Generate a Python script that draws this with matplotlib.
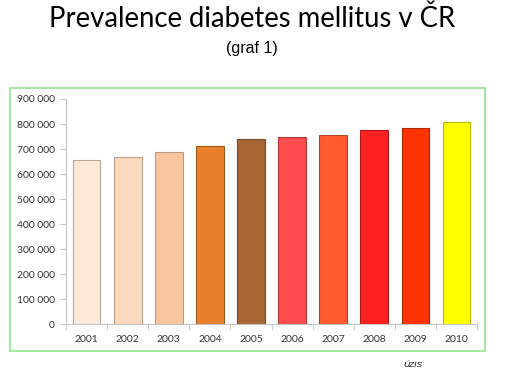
import matplotlib
matplotlib.use("Agg")
import matplotlib.pyplot as plt
from matplotlib.patches import Rectangle
from matplotlib.ticker import FuncFormatter

years = ["2001", "2002", "2003", "2004", "2005", "2006", "2007", "2008", "2009", "2010"]
prevalence = [656000, 668000, 689000, 713000, 740000, 749000, 757000, 776000, 785000, 809000]
bar_colors = ["#FCE9DA", "#FBD9BF", "#F9C59E", "#E87E2A", "#A86634",
              "#FF4C4C", "#FF5A30", "#FF2020", "#FF3300", "#FFFF00"]
edge_colors = ["#B8A596", "#B8A090", "#B89A80", "#A05A20", "#7A4A25",
               "#B03838", "#B04428", "#B01818", "#B02800", "#B8B800"]
y_ticks = list(range(0, 900001, 100000))

fig = plt.figure(figsize=(5.05, 3.73), dpi=100)

# green frame around the chart
fig.patches.append(Rectangle((0.020, 0.059), 0.941, 0.705, transform=fig.transFigure,
                             fill=False, edgecolor="#8EE68E", linewidth=1.2))

ax = fig.add_axes([0.1307, 0.1306, 0.814, 0.604])
x = range(len(years))
ax.bar(x, prevalence, width=0.675, color=bar_colors, edgecolor=edge_colors, linewidth=0.8)

ax.set_xlim(-0.5, len(years) - 0.5)
ax.set_ylim(0, 900000)
ax.set_yticks(y_ticks)
ax.yaxis.set_major_formatter(FuncFormatter(lambda v, p: "{:,}".format(int(v)).replace(",", " ")))
ax.set_xticks(list(x))
ax.set_xticklabels(years)
ax.set_xticks([i - 0.5 for i in range(len(years) + 1)], minor=True)

for s in ["top", "right"]:
    ax.spines[s].set_visible(False)
for s in ["left", "bottom"]:
    ax.spines[s].set_color("#C8C8C8")
    ax.spines[s].set_linewidth(0.8)

ax.tick_params(axis="x", which="major", length=0, pad=8, labelsize=7.5, labelcolor="#333333")
ax.tick_params(axis="x", which="minor", length=4, color="#C8C8C8")
ax.tick_params(axis="y", length=4, color="#C8C8C8", labelsize=7.5, labelcolor="#333333", pad=4)
for lab in ax.get_xticklabels() + ax.get_yticklabels():
    lab.set_family("Lato")

fig.text(0.499, 0.949, "Prevalence diabetes mellitus v ČR", ha="center", va="center",
         fontsize=19.8, family="Lato", color="black")
fig.text(0.498, 0.871, "(graf 1)", ha="center", va="center",
         fontsize=11.5, family="Liberation Sans", color="black")
fig.text(0.818, 0.019, "ÚZIS", ha="center", va="center",
         fontsize=6, style="italic", family="Liberation Sans", color="black")

fig.savefig("out.png", dpi=100)
